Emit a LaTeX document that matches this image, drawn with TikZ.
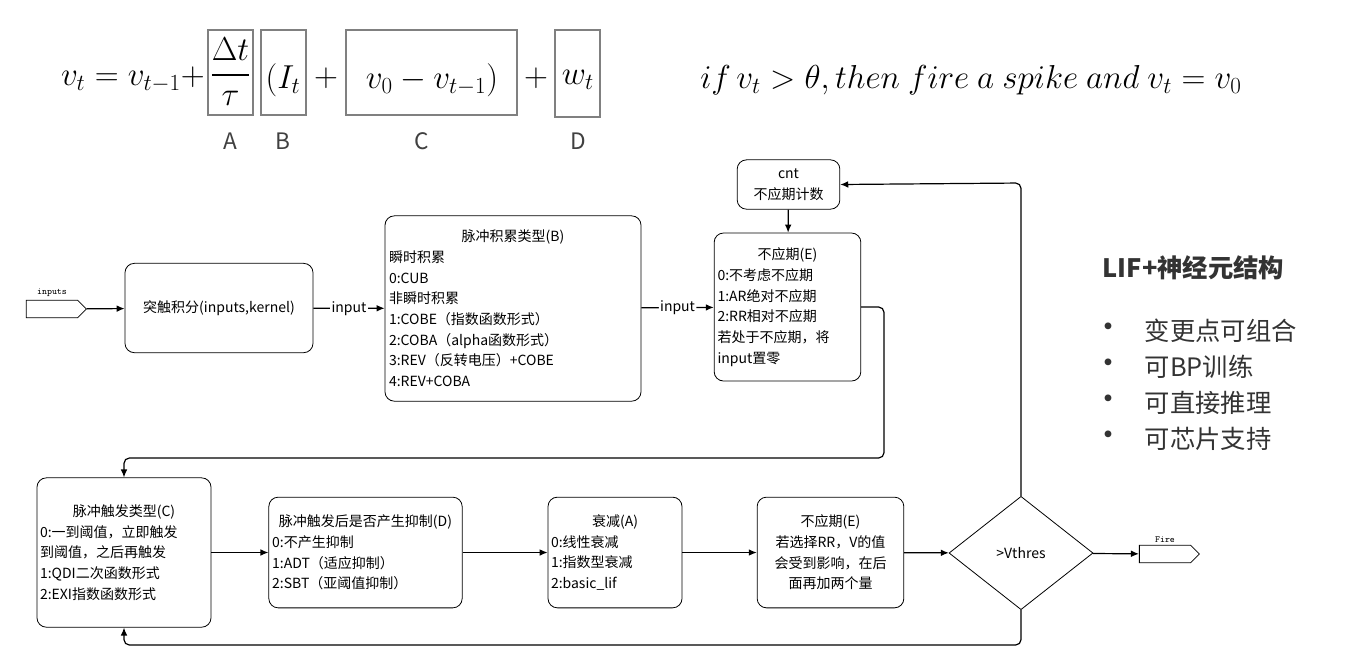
\documentclass[tikz,border=0pt]{standalone}
\usepackage{amsmath}
\usepackage{fontspec}
\setmainfont{Noto Sans CJK SC}
\usetikzlibrary{arrows.meta,shapes.geometric,shapes.symbols}
\tikzset{
  blk/.style={draw,rounded corners=7pt,line width=0.6pt,font=\fontsize{10.5}{15.5}\selectfont,inner sep=2pt},
  eqbox/.style={draw=gray,line width=0.8pt},
  conn/.style={line width=0.9pt,-{Latex[length=6pt,width=5pt]},rounded corners=4pt},
  lbl/.style={fill=white,inner sep=1pt,font=\fontsize{10.5}{12}\selectfont},
  sig/.style={draw,signal,signal to=east,minimum width=45pt,minimum height=13pt,inner sep=0pt,line width=0.6pt},
  eq/.style={font=\fontsize{27}{30}\selectfont,inner sep=0pt}
}
\begin{document}
\begin{tikzpicture}[x=0.75pt,y=-0.75pt]
\useasboundingbox (0,0) rectangle (1369,669);
% equation
\node[eq,anchor=east] (e1) at (205,80) {$v_t = v_{t-1} +$};
\draw[eqbox] (208,30) rectangle (253,115);
\node[eq,font=\fontsize{23}{26}\selectfont] (ea) at (230.5,72) {$\dfrac{\Delta t}{\tau}$};
\draw[eqbox] (261,30) rectangle (306,115);
\node[eq] (eb) at (283,80) {$(I_t$};
\node[eq] (ep1) at (326,78) {$+$};
\draw[eqbox] (346,30) rectangle (517,115);
\node[eq] (ec) at (432,80) {$v_0 - v_{t-1})$};
\node[eq] (ep2) at (536,78) {$+$};
\draw[eqbox] (555,30) rectangle (600,117);
\node[eq] (ed) at (578,80) {$w_t$};
\node[eq,anchor=west] (econd) at (700,80) {$if\,v_t>\theta, then\ fire\ a\ spike\ and\ v_t=v_0$};
\foreach \l/\x in {A/230,B/283,C/422,D/578}
  \node[font=\fontsize{17}{20}\selectfont,text=black!75] (lab\l) at (\x,141) {\l};
% boxes
\node[sig] (in) at (52,309) {};
\node[font=\ttfamily\fontsize{7}{8}\selectfont] (intxt) at (52,293) {inputs};
\node[blk,minimum width=141pt,minimum height=67pt] (syn) at (219,308) {突触积分(inputs,kernel)};
\node[blk,minimum width=192pt,minimum height=139pt,text width=186pt,align=left] (B) at (513,308.5)
 {\makebox[186pt]{脉冲积累类型(B)}\\瞬时积累\\0:CUB\\非瞬时积累\\1:COBE（指数函数形式）\\2:COBA（alpha函数形式）\\3:REV（反转电压）+COBE\\4:REV+COBA};
\node[blk,minimum width=110pt,minimum height=111pt,text width=105pt,align=left] (E) at (787.5,307)
 {\makebox[105pt]{不应期(E)}\\0:不考虑不应期\\1:AR绝对不应期\\2:RR相对不应期\\若处于不应期，将\\input置零};
\node[blk,minimum width=77pt,minimum height=37pt,align=center] (cnt) at (788.5,184.5) {cnt\\不应期计数};
\node[blk,minimum width=130.5pt,minimum height=112pt,text width=126pt,align=left] (C) at (124,552.5)
 {\makebox[126pt]{脉冲触发类型(C)}\\0:一到阈值，立即触发\\到阈值，之后再触发\\1:QDI二次函数形式\\2:EXI指数函数形式};
\node[blk,minimum width=145pt,minimum height=83pt,text width=140pt,align=left] (D) at (365.5,552.5)
 {\makebox[140pt]{脉冲触发后是否产生抑制(D)}\\0:不产生抑制\\1:ADT（适应抑制）\\2:SBT（亚阈值抑制）};
\node[blk,minimum width=100.5pt,minimum height=83pt,text width=96pt,align=left] (A) at (615,552.5)
 {\makebox[96pt]{衰减(A)}\\0:线性衰减\\1:指数型衰减\\2:basic\_lif};
\node[blk,minimum width=110pt,minimum height=83pt,align=center] (E2) at (830.5,552.5)
 {不应期(E)\\若选择RR，V的值\\会受到影响，在后\\面再加两个量};
\node[draw,diamond,line width=0.6pt,minimum width=108pt,minimum height=85pt,inner sep=0pt,font=\fontsize{10.5}{12}\selectfont] (th) at (1021,553) {>Vthres};
\node[sig] (fire) at (1165,554) {};
\node[font=\ttfamily\fontsize{7}{8}\selectfont] (firetxt) at (1165,540) {Fire};
% connectors
\draw[conn] (in) -- (syn);
\draw[conn] (syn) -- node[lbl]{input} (B);
\draw[conn] (B) -- node[lbl]{input} (E);
\draw[conn] (cnt) -- (E);
\coordinate (r1) at (884,458);
\draw[conn] (E.east) -| (r1) -| (C.north);
\draw[conn] (C) -- (D);
\draw[conn] (D) -- (A);
\draw[conn] (A) -- (E2);
\draw[conn] (E2) -- (th);
\draw[conn] (th) -- (fire);
\coordinate (t1) at (1021,183);
\draw[conn] (th.north) -- (t1) -- (cnt.east);
\coordinate (b1) at (1021,645);
\draw[conn] (th.south) -- (b1) -| (C.south);
% right text
\node[anchor=west,font=\bfseries\fontsize{19}{22}\selectfont,text=black!80] (title) at (1098,268) {LIF+神经元结构};
\foreach \t/\y [count=\i] in {变更点可组合/331,可BP训练/367,可直接推理/403,可芯片支持/439}{
  \node[font=\fontsize{24}{26}\selectfont,text=black!80] (bul\i) at (1108,\y) {•};
  \node[anchor=west,font=\fontsize{19}{22}\selectfont,text=black!80] (bt\i) at (1140,\y) {\t};
}
\end{tikzpicture}
\end{document}
